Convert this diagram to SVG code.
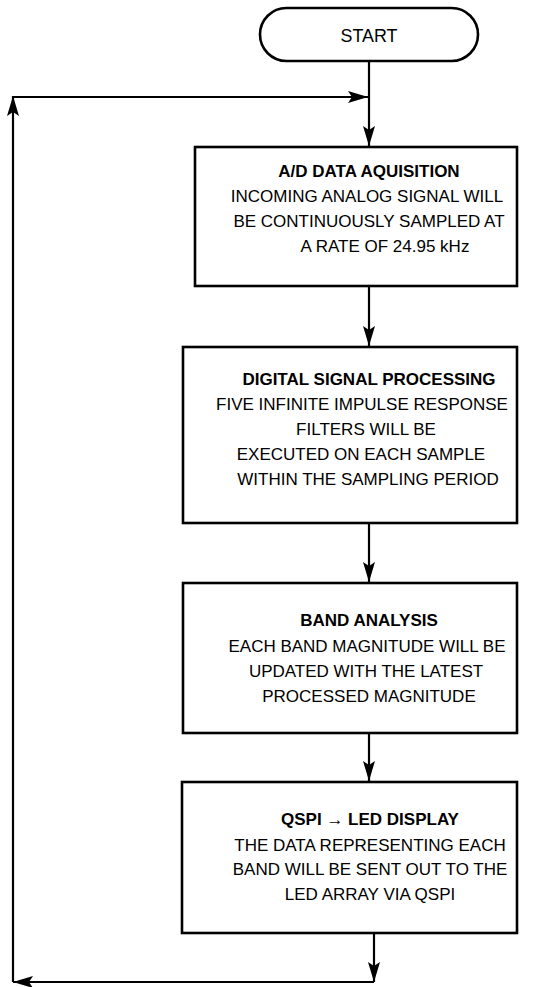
<svg xmlns="http://www.w3.org/2000/svg" width="556" height="987" viewBox="0 0 556 987">
  <defs>
    <marker id="arrow" viewBox="0 0 20 12" refX="20" refY="6" markerWidth="20" markerHeight="12" markerUnits="userSpaceOnUse" orient="auto">
      <path d="M0,0 L20,6 L0,12 L4,6 Z" fill="#000"/>
    </marker>
  </defs>
  <style>
    .box { fill: #fff; stroke: #000; stroke-width: 2.6; }
    .wire { fill: none; stroke: #000; stroke-width: 2.2; }
    text { font-family: "Liberation Sans", Arial, Helvetica, sans-serif; font-size: 17px; fill: #000; text-anchor: middle; }
    .title { font-weight: bold; }
    .terminal { font-size: 19px; }
  </style>

  <rect width="556" height="987" fill="#fff"/>

  <!-- flow lines and the loop back to the top -->
  <g id="connectors">
    <line class="wire" x1="369" y1="61" x2="369" y2="146" marker-end="url(#arrow)"/>
    <line class="wire" x1="13" y1="97" x2="368" y2="97" marker-end="url(#arrow)"/>
    <line class="wire" x1="369" y1="286" x2="369" y2="346" marker-end="url(#arrow)"/>
    <line class="wire" x1="369" y1="523" x2="369" y2="582" marker-end="url(#arrow)"/>
    <line class="wire" x1="369" y1="733" x2="369" y2="781" marker-end="url(#arrow)"/>
    <line class="wire" x1="374" y1="933" x2="374" y2="982" marker-end="url(#arrow)"/>
    <line class="wire" x1="374" y1="982" x2="13" y2="982" marker-end="url(#arrow)"/>
    <line class="wire" x1="13" y1="982" x2="13" y2="96" marker-end="url(#arrow)"/>
  </g>

  <g id="start">
    <rect class="box" x="260" y="8" width="218" height="53" rx="26.5" ry="26.5"/>
    <text class="terminal" x="369" y="41.5" textLength="57" lengthAdjust="spacingAndGlyphs">START</text>
  </g>

  <g id="ad-acquisition">
    <rect class="box" x="195" y="147" width="322" height="139"/>
    <text class="title" x="369" y="177">A/D DATA AQUISITION</text>
    <text x="367" y="202">INCOMING ANALOG SIGNAL WILL</text>
    <text x="369" y="227">BE CONTINUOUSLY SAMPLED AT</text>
    <text x="385" y="252">A RATE OF 24.95 kHz</text>
  </g>

  <g id="dsp">
    <rect class="box" x="183" y="347" width="334" height="176"/>
    <text class="title" x="369" y="385">DIGITAL SIGNAL PROCESSING</text>
    <text x="362" y="410">FIVE INFINITE IMPULSE RESPONSE</text>
    <text x="366" y="435">FILTERS WILL BE</text>
    <text x="361" y="460">EXECUTED ON EACH SAMPLE</text>
    <text x="368" y="485">WITHIN THE SAMPLING PERIOD</text>
  </g>

  <g id="band-analysis">
    <rect class="box" x="183" y="583" width="334" height="150"/>
    <text class="title" x="369" y="626">BAND ANALYSIS</text>
    <text x="367" y="652">EACH BAND MAGNITUDE WILL BE</text>
    <text x="366" y="677">UPDATED WITH THE LATEST</text>
    <text x="369" y="702">PROCESSED MAGNITUDE</text>
  </g>

  <g id="led-display">
    <rect class="box" x="182" y="782" width="335" height="151"/>
    <text class="title" x="370" y="825">QSPI → LED DISPLAY</text>
    <text x="370" y="851">THE DATA REPRESENTING EACH</text>
    <text x="370" y="875">BAND WILL BE SENT OUT TO THE</text>
    <text x="370" y="900">LED ARRAY VIA QSPI</text>
  </g>
</svg>
